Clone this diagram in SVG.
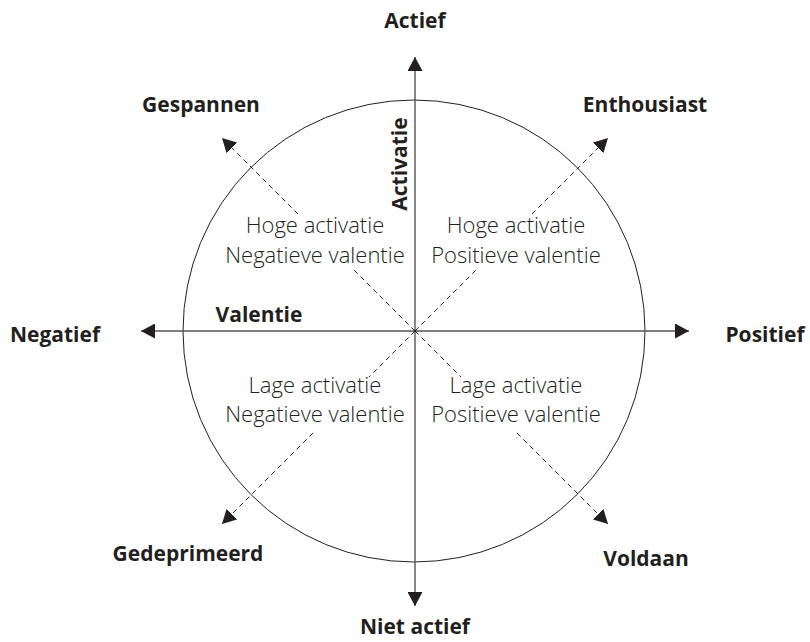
<svg xmlns="http://www.w3.org/2000/svg" width="810" height="642" viewBox="0 0 810 642">
  <style>
    .lbl { font-family: "Open Sans", "Liberation Sans", sans-serif; font-weight: 700; font-size: 21px; fill: #231f20; text-anchor: middle; }
    .quad { font-family: "Open Sans", "Liberation Sans", sans-serif; font-weight: 300; font-size: 22px; fill: #231f20; text-anchor: middle; }
    .axis { stroke: #555; stroke-width: 1.4; fill: none; }
    .diag { stroke: #231f20; stroke-width: 1; stroke-dasharray: 5 4; fill: none; }
    .ring { stroke: #231f20; stroke-width: 1; fill: none; }
  </style>
  <defs>
    <marker id="arrow" viewBox="0 0 14 15" refX="14" refY="7.5" markerWidth="14" markerHeight="15" markerUnits="userSpaceOnUse" orient="auto-start-reverse">
      <path d="M0,0 L14,7.5 L0,15 Z" fill="#231f20"/>
    </marker>
  </defs>
  <rect width="810" height="642" fill="#fff"/>

  <g id="circle">
    <circle class="ring" cx="414" cy="331" r="231"/>
  </g>

  <g id="connectors">
    <line id="axis-valentie" class="axis" x1="141" y1="331" x2="689" y2="331" marker-start="url(#arrow)" marker-end="url(#arrow)"/>
    <line id="axis-activatie" class="axis" x1="415" y1="57" x2="415" y2="606" marker-start="url(#arrow)" marker-end="url(#arrow)"/>
    <path id="diag-ul" class="diag" d="M415,331 L353,269 M298,214 L222,138" marker-end="url(#arrow)"/>
    <path id="diag-ur" class="diag" d="M415,331 L477,269 M532,214 L608,138" marker-end="url(#arrow)"/>
    <path id="diag-ll" class="diag" d="M415,331 L369,377 M313,433 L222,524" marker-end="url(#arrow)"/>
    <path id="diag-lr" class="diag" d="M415,331 L461,377 M517,433 L608,524" marker-end="url(#arrow)"/>
  </g>

  <g id="node-actief"><text class="lbl" x="415" y="28">Actief</text></g>
  <g id="node-niet-actief"><text class="lbl" x="415" y="634">Niet actief</text></g>
  <g id="node-gespannen"><text class="lbl" x="201" y="112">Gespannen</text></g>
  <g id="node-enthousiast"><text class="lbl" x="645" y="112">Enthousiast</text></g>
  <g id="node-negatief"><text class="lbl" x="55" y="342">Negatief</text></g>
  <g id="node-positief"><text class="lbl" x="765" y="342">Positief</text></g>
  <g id="node-gedeprimeerd"><text class="lbl" x="188" y="561">Gedeprimeerd</text></g>
  <g id="node-voldaan"><text class="lbl" x="646" y="566">Voldaan</text></g>
  <g id="label-valentie"><text class="lbl" x="259" y="322">Valentie</text></g>
  <g id="label-activatie"><text class="lbl" transform="translate(407,164) rotate(-90)" x="0" y="0">Activatie</text></g>

  <g id="quad-hoog-neg">
    <text class="quad" x="315" y="233">Hoge activatie</text>
    <text class="quad" x="315" y="263">Negatieve valentie</text>
  </g>
  <g id="quad-hoog-pos">
    <text class="quad" x="516" y="233">Hoge activatie</text>
    <text class="quad" x="516" y="263">Positieve valentie</text>
  </g>
  <g id="quad-laag-neg">
    <text class="quad" x="315" y="393">Lage activatie</text>
    <text class="quad" x="315" y="422">Negatieve valentie</text>
  </g>
  <g id="quad-laag-pos">
    <text class="quad" x="516" y="393">Lage activatie</text>
    <text class="quad" x="516" y="422">Positieve valentie</text>
  </g>
</svg>
